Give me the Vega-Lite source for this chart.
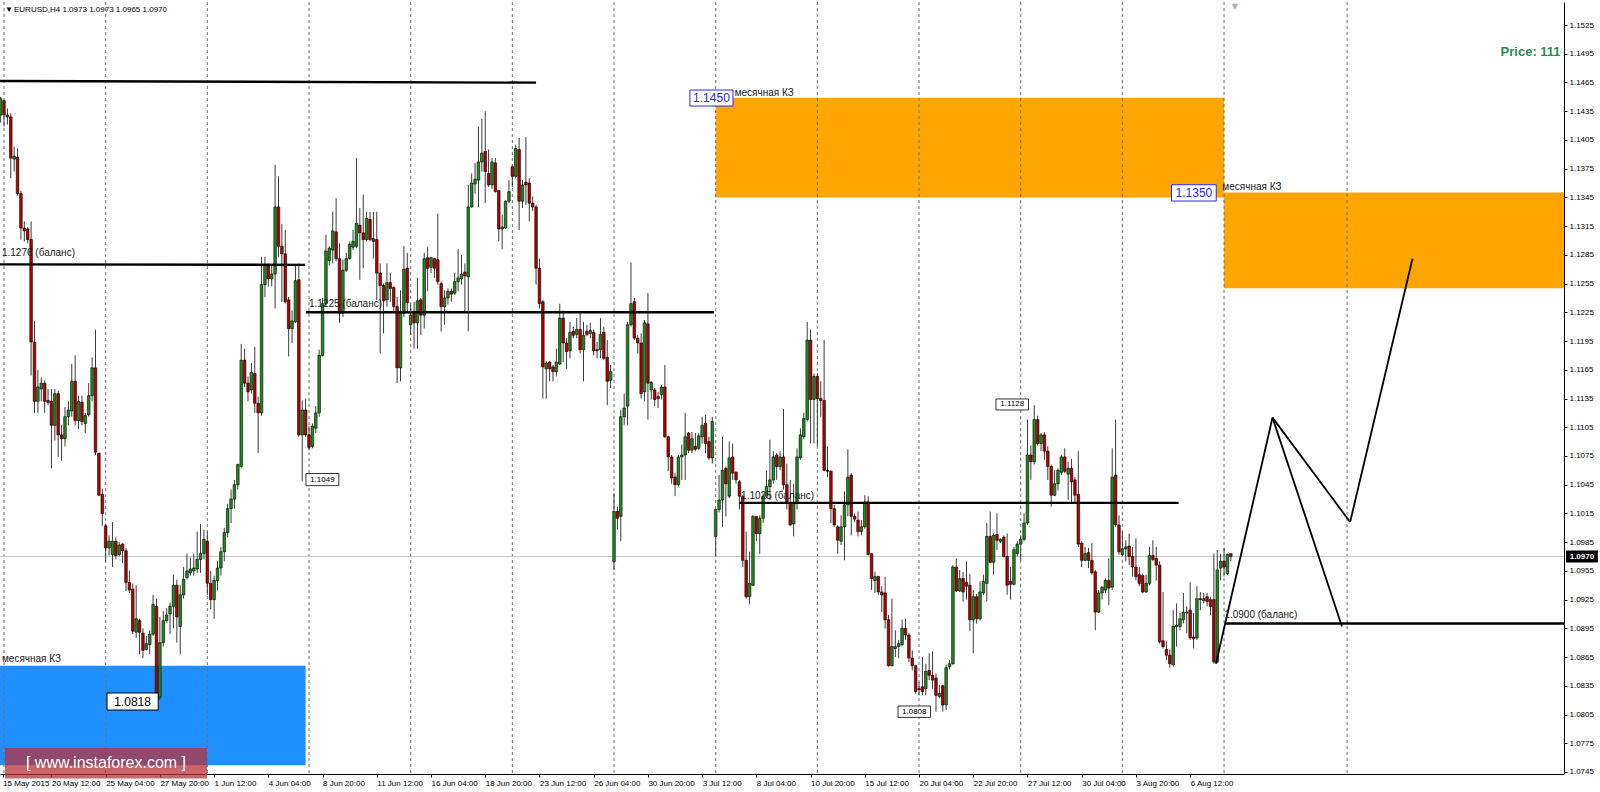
{
 "$schema": "https://vega.github.io/schema/vega-lite/v6.json",
 "width": 1564, "height": 772,
 "autosize": {"type": "none"},
 "padding": {"left": 0, "top": 2, "right": 36, "bottom": 18},
 "background": "#FFFFFF",
 "config": {"view": {"stroke": null}, "font": "Liberation Sans"},
 "resolve": {"axis": {"x": "independent", "y": "independent"}},
 "datasets": {
  "candles": [
{"i":0,"o":1.1431,"h":1.1450,"l":1.1423,"c":1.1448},
{"i":1,"o":1.1446,"h":1.1447,"l":1.1419,"c":1.1431},
{"i":2,"o":1.1431,"h":1.1438,"l":1.1421,"c":1.1429},
{"i":3,"o":1.1429,"h":1.1433,"l":1.1365,"c":1.1386},
{"i":4,"o":1.1385,"h":1.1398,"l":1.1372,"c":1.1388},
{"i":5,"o":1.1387,"h":1.1396,"l":1.1347,"c":1.1349},
{"i":6,"o":1.1349,"h":1.1352,"l":1.1301,"c":1.1313},
{"i":7,"o":1.1313,"h":1.1320,"l":1.1299,"c":1.1310},
{"i":8,"o":1.1312,"h":1.1314,"l":1.1297,"c":1.1301},
{"i":9,"o":1.1301,"h":1.1320,"l":1.1159,"c":1.1194},
{"i":10,"o":1.1194,"h":1.1216,"l":1.1120,"c":1.1132},
{"i":11,"o":1.1132,"h":1.1165,"l":1.1120,"c":1.1147},
{"i":12,"o":1.1145,"h":1.1157,"l":1.1132,"c":1.1151},
{"i":13,"o":1.1151,"h":1.1154,"l":1.1120,"c":1.1132},
{"i":14,"o":1.1133,"h":1.1145,"l":1.1128,"c":1.1131},
{"i":15,"o":1.1132,"h":1.1145,"l":1.1062,"c":1.1107},
{"i":16,"o":1.1107,"h":1.1145,"l":1.1091,"c":1.1140},
{"i":17,"o":1.1140,"h":1.1143,"l":1.1074,"c":1.1097},
{"i":18,"o":1.1097,"h":1.1107,"l":1.1070,"c":1.1093},
{"i":19,"o":1.1093,"h":1.1126,"l":1.1085,"c":1.1116},
{"i":20,"o":1.1116,"h":1.1132,"l":1.1107,"c":1.1123},
{"i":21,"o":1.1122,"h":1.1171,"l":1.1116,"c":1.1153},
{"i":22,"o":1.1153,"h":1.1180,"l":1.1107,"c":1.1112},
{"i":23,"o":1.1112,"h":1.1138,"l":1.1103,"c":1.1132},
{"i":24,"o":1.1131,"h":1.1138,"l":1.1107,"c":1.1111},
{"i":25,"o":1.1109,"h":1.1120,"l":1.1099,"c":1.1117},
{"i":26,"o":1.1118,"h":1.1151,"l":1.1116,"c":1.1138},
{"i":27,"o":1.1138,"h":1.1178,"l":1.1132,"c":1.1167},
{"i":28,"o":1.1167,"h":1.1207,"l":1.1076,"c":1.1079},
{"i":29,"o":1.1078,"h":1.1078,"l":1.1033,"c":1.1034},
{"i":30,"o":1.1035,"h":1.1041,"l":1.1002,"c":1.1015},
{"i":31,"o":1.1002,"h":1.1004,"l":1.0965,"c":1.0979},
{"i":32,"o":1.0979,"h":1.0992,"l":1.0971,"c":1.0986},
{"i":33,"o":1.0972,"h":1.1006,"l":1.0959,"c":1.0986},
{"i":34,"o":1.0986,"h":1.0990,"l":1.0967,"c":1.0971},
{"i":35,"o":1.0972,"h":1.0985,"l":1.0970,"c":1.0982},
{"i":36,"o":1.0983,"h":1.0984,"l":1.0963,"c":1.0976},
{"i":37,"o":1.0976,"h":1.0979,"l":1.0934,"c":1.0943},
{"i":38,"o":1.0943,"h":1.0955,"l":1.0932,"c":1.0935},
{"i":39,"o":1.0936,"h":1.0942,"l":1.0889,"c":1.0892},
{"i":40,"o":1.0891,"h":1.0940,"l":1.0885,"c":1.0905},
{"i":41,"o":1.0903,"h":1.0905,"l":1.0868,"c":1.0891},
{"i":42,"o":1.0890,"h":1.0895,"l":1.0864,"c":1.0872},
{"i":43,"o":1.0873,"h":1.0887,"l":1.0872,"c":1.0879},
{"i":44,"o":1.0878,"h":1.0893,"l":1.0868,"c":1.0889},
{"i":45,"o":1.0889,"h":1.0930,"l":1.0887,"c":1.0920},
{"i":46,"o":1.0918,"h":1.0926,"l":1.0818,"c":1.0821},
{"i":47,"o":1.0823,"h":1.0907,"l":1.0820,"c":1.0880},
{"i":48,"o":1.0880,"h":1.0913,"l":1.0876,"c":1.0903},
{"i":49,"o":1.0903,"h":1.0916,"l":1.0901,"c":1.0909},
{"i":50,"o":1.0910,"h":1.0922,"l":1.0889,"c":1.0918},
{"i":51,"o":1.0918,"h":1.0951,"l":1.0895,"c":1.0940},
{"i":52,"o":1.0940,"h":1.0946,"l":1.0880,"c":1.0907},
{"i":53,"o":1.0897,"h":1.0940,"l":1.0868,"c":1.0930},
{"i":54,"o":1.0930,"h":1.0959,"l":1.0926,"c":1.0946},
{"i":55,"o":1.0948,"h":1.0973,"l":1.0946,"c":1.0955},
{"i":56,"o":1.0953,"h":1.0969,"l":1.0950,"c":1.0957},
{"i":57,"o":1.0955,"h":1.0973,"l":1.0950,"c":1.0958},
{"i":58,"o":1.0957,"h":1.0996,"l":1.0953,"c":1.0967},
{"i":59,"o":1.0967,"h":1.1004,"l":1.0953,"c":1.0973},
{"i":60,"o":1.0973,"h":1.0998,"l":1.0967,"c":1.0988},
{"i":61,"o":1.0986,"h":1.0996,"l":1.0930,"c":1.0942},
{"i":62,"o":1.0942,"h":1.0955,"l":1.0915,"c":1.0925},
{"i":63,"o":1.0925,"h":1.0950,"l":1.0905,"c":1.0945},
{"i":64,"o":1.0945,"h":1.0965,"l":1.0935,"c":1.0958},
{"i":65,"o":1.0958,"h":1.0980,"l":1.0950,"c":1.0975},
{"i":66,"o":1.0975,"h":1.1000,"l":1.0965,"c":1.0995},
{"i":67,"o":1.0995,"h":1.1025,"l":1.0990,"c":1.1020},
{"i":68,"o":1.1020,"h":1.1040,"l":1.1005,"c":1.1030},
{"i":69,"o":1.1030,"h":1.1050,"l":1.1020,"c":1.1045},
{"i":70,"o":1.1045,"h":1.1067,"l":1.1040,"c":1.1066},
{"i":71,"o":1.1064,"h":1.1192,"l":1.1062,"c":1.1175},
{"i":72,"o":1.1175,"h":1.1187,"l":1.1147,"c":1.1151},
{"i":73,"o":1.1151,"h":1.1158,"l":1.1132,"c":1.1142},
{"i":74,"o":1.1144,"h":1.1172,"l":1.1140,"c":1.1162},
{"i":75,"o":1.1161,"h":1.1189,"l":1.1120,"c":1.1130},
{"i":76,"o":1.1130,"h":1.1137,"l":1.1078,"c":1.1120},
{"i":77,"o":1.1120,"h":1.1283,"l":1.1117,"c":1.1254},
{"i":78,"o":1.1254,"h":1.1283,"l":1.1241,"c":1.1274},
{"i":79,"o":1.1274,"h":1.1276,"l":1.1252,"c":1.1260},
{"i":80,"o":1.1260,"h":1.1274,"l":1.1252,"c":1.1265},
{"i":81,"o":1.1265,"h":1.1379,"l":1.1229,"c":1.1335},
{"i":82,"o":1.1335,"h":1.1367,"l":1.1283,"c":1.1294},
{"i":83,"o":1.1294,"h":1.1317,"l":1.1236,"c":1.1286},
{"i":84,"o":1.1286,"h":1.1311,"l":1.1234,"c":1.1236},
{"i":85,"o":1.1238,"h":1.1241,"l":1.1179,"c":1.1208},
{"i":86,"o":1.1208,"h":1.1227,"l":1.1193,"c":1.1216},
{"i":87,"o":1.1215,"h":1.1274,"l":1.1214,"c":1.1258},
{"i":88,"o":1.1259,"h":1.1276,"l":1.1095,"c":1.1097},
{"i":89,"o":1.1097,"h":1.1133,"l":1.1049,"c":1.1123},
{"i":90,"o":1.1123,"h":1.1135,"l":1.1095,"c":1.1097},
{"i":91,"o":1.1097,"h":1.1106,"l":1.1081,"c":1.1084},
{"i":92,"o":1.1085,"h":1.1109,"l":1.1083,"c":1.1106},
{"i":93,"o":1.1104,"h":1.1127,"l":1.1099,"c":1.1120},
{"i":94,"o":1.1120,"h":1.1186,"l":1.1116,"c":1.1180},
{"i":95,"o":1.1180,"h":1.1240,"l":1.1179,"c":1.1234},
{"i":96,"o":1.1234,"h":1.1306,"l":1.1231,"c":1.1289},
{"i":97,"o":1.1279,"h":1.1294,"l":1.1274,"c":1.1292},
{"i":98,"o":1.1290,"h":1.1330,"l":1.1276,"c":1.1310},
{"i":99,"o":1.1309,"h":1.1344,"l":1.1278,"c":1.1281},
{"i":100,"o":1.1281,"h":1.1297,"l":1.1214,"c":1.1224},
{"i":101,"o":1.1224,"h":1.1280,"l":1.1220,"c":1.1269},
{"i":102,"o":1.1269,"h":1.1287,"l":1.1267,"c":1.1281},
{"i":103,"o":1.1281,"h":1.1299,"l":1.1280,"c":1.1296},
{"i":104,"o":1.1293,"h":1.1311,"l":1.1290,"c":1.1299},
{"i":105,"o":1.1294,"h":1.1386,"l":1.1292,"c":1.1318},
{"i":106,"o":1.1316,"h":1.1334,"l":1.1259,"c":1.1308},
{"i":107,"o":1.1308,"h":1.1348,"l":1.1271,"c":1.1301},
{"i":108,"o":1.1301,"h":1.1330,"l":1.1299,"c":1.1323},
{"i":109,"o":1.1322,"h":1.1330,"l":1.1299,"c":1.1301},
{"i":110,"o":1.1302,"h":1.1330,"l":1.1281,"c":1.1299},
{"i":111,"o":1.1301,"h":1.1330,"l":1.1238,"c":1.1266},
{"i":112,"o":1.1266,"h":1.1276,"l":1.1182,"c":1.1253},
{"i":113,"o":1.1253,"h":1.1255,"l":1.1203,"c":1.1237},
{"i":114,"o":1.1238,"h":1.1276,"l":1.1231,"c":1.1256},
{"i":115,"o":1.1256,"h":1.1266,"l":1.1236,"c":1.1250},
{"i":116,"o":1.1251,"h":1.1252,"l":1.1224,"c":1.1231},
{"i":117,"o":1.1231,"h":1.1241,"l":1.1151,"c":1.1167},
{"i":118,"o":1.1167,"h":1.1248,"l":1.1153,"c":1.1225},
{"i":119,"o":1.1224,"h":1.1294,"l":1.1220,"c":1.1270},
{"i":120,"o":1.1271,"h":1.1287,"l":1.1225,"c":1.1235},
{"i":121,"o":1.1212,"h":1.1233,"l":1.1201,"c":1.1222},
{"i":122,"o":1.1224,"h":1.1236,"l":1.1187,"c":1.1214},
{"i":123,"o":1.1214,"h":1.1261,"l":1.1187,"c":1.1237},
{"i":124,"o":1.1238,"h":1.1240,"l":1.1201,"c":1.1222},
{"i":125,"o":1.1222,"h":1.1287,"l":1.1208,"c":1.1281},
{"i":126,"o":1.1282,"h":1.1293,"l":1.1247,"c":1.1271},
{"i":127,"o":1.1272,"h":1.1283,"l":1.1266,"c":1.1282},
{"i":128,"o":1.1281,"h":1.1282,"l":1.1261,"c":1.1271},
{"i":129,"o":1.1280,"h":1.1328,"l":1.1254,"c":1.1257},
{"i":130,"o":1.1255,"h":1.1257,"l":1.1205,"c":1.1231},
{"i":131,"o":1.1231,"h":1.1248,"l":1.1212,"c":1.1240},
{"i":132,"o":1.1240,"h":1.1250,"l":1.1233,"c":1.1247},
{"i":133,"o":1.1247,"h":1.1250,"l":1.1236,"c":1.1244},
{"i":134,"o":1.1245,"h":1.1266,"l":1.1243,"c":1.1257},
{"i":135,"o":1.1257,"h":1.1291,"l":1.1247,"c":1.1261},
{"i":136,"o":1.1260,"h":1.1285,"l":1.1254,"c":1.1265},
{"i":137,"o":1.1267,"h":1.1276,"l":1.1226,"c":1.1263},
{"i":138,"o":1.1262,"h":1.1358,"l":1.1205,"c":1.1335},
{"i":139,"o":1.1335,"h":1.1370,"l":1.1334,"c":1.1360},
{"i":140,"o":1.1359,"h":1.1381,"l":1.1349,"c":1.1364},
{"i":141,"o":1.1363,"h":1.1419,"l":1.1335,"c":1.1382},
{"i":142,"o":1.1382,"h":1.1427,"l":1.1372,"c":1.1391},
{"i":143,"o":1.1393,"h":1.1435,"l":1.1339,"c":1.1372},
{"i":144,"o":1.1370,"h":1.1395,"l":1.1356,"c":1.1358},
{"i":145,"o":1.1358,"h":1.1386,"l":1.1354,"c":1.1382},
{"i":146,"o":1.1381,"h":1.1386,"l":1.1350,"c":1.1351},
{"i":147,"o":1.1352,"h":1.1353,"l":1.1299,"c":1.1312},
{"i":148,"o":1.1312,"h":1.1327,"l":1.1291,"c":1.1314},
{"i":149,"o":1.1313,"h":1.1342,"l":1.1312,"c":1.1341},
{"i":150,"o":1.1341,"h":1.1363,"l":1.1339,"c":1.1351},
{"i":151,"o":1.1377,"h":1.1379,"l":1.1356,"c":1.1367},
{"i":152,"o":1.1367,"h":1.1400,"l":1.1365,"c":1.1396},
{"i":153,"o":1.1395,"h":1.1407,"l":1.1311,"c":1.1341},
{"i":154,"o":1.1341,"h":1.1363,"l":1.1334,"c":1.1358},
{"i":155,"o":1.1361,"h":1.1408,"l":1.1337,"c":1.1358},
{"i":156,"o":1.1360,"h":1.1365,"l":1.1320,"c":1.1339},
{"i":157,"o":1.1339,"h":1.1346,"l":1.1331,"c":1.1335},
{"i":158,"o":1.1335,"h":1.1337,"l":1.1254,"c":1.1271},
{"i":159,"o":1.1271,"h":1.1281,"l":1.1229,"c":1.1234},
{"i":160,"o":1.1236,"h":1.1238,"l":1.1135,"c":1.1168},
{"i":161,"o":1.1166,"h":1.1174,"l":1.1135,"c":1.1172},
{"i":162,"o":1.1173,"h":1.1174,"l":1.1153,"c":1.1166},
{"i":163,"o":1.1168,"h":1.1170,"l":1.1153,"c":1.1163},
{"i":164,"o":1.1163,"h":1.1187,"l":1.1158,"c":1.1173},
{"i":165,"o":1.1171,"h":1.1234,"l":1.1170,"c":1.1219},
{"i":166,"o":1.1219,"h":1.1227,"l":1.1173,"c":1.1193},
{"i":167,"o":1.1193,"h":1.1198,"l":1.1166,"c":1.1184},
{"i":168,"o":1.1185,"h":1.1215,"l":1.1177,"c":1.1204},
{"i":169,"o":1.1205,"h":1.1210,"l":1.1198,"c":1.1201},
{"i":170,"o":1.1202,"h":1.1219,"l":1.1198,"c":1.1207},
{"i":171,"o":1.1207,"h":1.1226,"l":1.1182,"c":1.1186},
{"i":172,"o":1.1186,"h":1.1215,"l":1.1153,"c":1.1201},
{"i":173,"o":1.1205,"h":1.1212,"l":1.1200,"c":1.1202},
{"i":174,"o":1.1203,"h":1.1214,"l":1.1198,"c":1.1206},
{"i":175,"o":1.1204,"h":1.1207,"l":1.1180,"c":1.1185},
{"i":176,"o":1.1186,"h":1.1194,"l":1.1177,"c":1.1185},
{"i":177,"o":1.1186,"h":1.1219,"l":1.1177,"c":1.1202},
{"i":178,"o":1.1204,"h":1.1210,"l":1.1175,"c":1.1177},
{"i":179,"o":1.1178,"h":1.1196,"l":1.1128,"c":1.1153},
{"i":180,"o":1.1154,"h":1.1170,"l":1.1146,"c":1.1163},
{"i":181,"o":1.0965,"h":1.1036,"l":1.0956,"c":1.1017},
{"i":182,"o":1.1017,"h":1.1022,"l":1.0998,"c":1.1010},
{"i":183,"o":1.1012,"h":1.1123,"l":1.0986,"c":1.1116},
{"i":184,"o":1.1116,"h":1.1140,"l":1.1107,"c":1.1125},
{"i":185,"o":1.1127,"h":1.1215,"l":1.1107,"c":1.1212},
{"i":186,"o":1.1212,"h":1.1277,"l":1.1210,"c":1.1234},
{"i":187,"o":1.1236,"h":1.1240,"l":1.1196,"c":1.1198},
{"i":188,"o":1.1198,"h":1.1201,"l":1.1182,"c":1.1193},
{"i":189,"o":1.1193,"h":1.1203,"l":1.1135,"c":1.1140},
{"i":190,"o":1.1142,"h":1.1217,"l":1.1132,"c":1.1214},
{"i":191,"o":1.1213,"h":1.1245,"l":1.1113,"c":1.1151},
{"i":192,"o":1.1144,"h":1.1153,"l":1.1134,"c":1.1152},
{"i":193,"o":1.1144,"h":1.1146,"l":1.1127,"c":1.1134},
{"i":194,"o":1.1137,"h":1.1142,"l":1.1125,"c":1.1135},
{"i":195,"o":1.1139,"h":1.1149,"l":1.1134,"c":1.1147},
{"i":196,"o":1.1147,"h":1.1170,"l":1.1094,"c":1.1095},
{"i":197,"o":1.1095,"h":1.1096,"l":1.1059,"c":1.1074},
{"i":198,"o":1.1074,"h":1.1076,"l":1.1046,"c":1.1052},
{"i":199,"o":1.1053,"h":1.1057,"l":1.1033,"c":1.1045},
{"i":200,"o":1.1045,"h":1.1076,"l":1.1043,"c":1.1074},
{"i":201,"o":1.1074,"h":1.1087,"l":1.1050,"c":1.1076},
{"i":202,"o":1.1076,"h":1.1120,"l":1.1050,"c":1.1095},
{"i":203,"o":1.1099,"h":1.1100,"l":1.1078,"c":1.1081},
{"i":204,"o":1.1081,"h":1.1100,"l":1.1078,"c":1.1093},
{"i":205,"o":1.1085,"h":1.1099,"l":1.1080,"c":1.1082},
{"i":206,"o":1.1083,"h":1.1099,"l":1.1081,"c":1.1096},
{"i":207,"o":1.1095,"h":1.1116,"l":1.1088,"c":1.1107},
{"i":208,"o":1.1109,"h":1.1118,"l":1.1078,"c":1.1088},
{"i":209,"o":1.1090,"h":1.1095,"l":1.1071,"c":1.1073},
{"i":210,"o":1.1073,"h":1.1116,"l":1.1067,"c":1.1111},
{"i":211,"o":1.0991,"h":1.1019,"l":1.0970,"c":1.1019},
{"i":212,"o":1.1019,"h":1.1055,"l":1.1016,"c":1.1029},
{"i":213,"o":1.1029,"h":1.1095,"l":1.1001,"c":1.1060},
{"i":214,"o":1.1062,"h":1.1064,"l":1.1012,"c":1.1046},
{"i":215,"o":1.1033,"h":1.1090,"l":1.1031,"c":1.1073},
{"i":216,"o":1.1074,"h":1.1088,"l":1.1050,"c":1.1057},
{"i":217,"o":1.1058,"h":1.1059,"l":1.1046,"c":1.1050},
{"i":218,"o":1.1048,"h":1.1050,"l":1.1019,"c":1.1033},
{"i":219,"o":1.1033,"h":1.1034,"l":1.0959,"c":1.0966},
{"i":220,"o":1.0966,"h":1.0996,"l":1.0926,"c":1.0928},
{"i":221,"o":1.0928,"h":1.0975,"l":1.0920,"c":1.0942},
{"i":222,"o":1.0940,"h":1.1013,"l":1.0939,"c":1.1012},
{"i":223,"o":1.1012,"h":1.1012,"l":1.0986,"c":1.0994},
{"i":224,"o":1.0994,"h":1.1013,"l":1.0973,"c":1.1010},
{"i":225,"o":1.1010,"h":1.1036,"l":1.1005,"c":1.1033},
{"i":226,"o":1.1033,"h":1.1060,"l":1.1031,"c":1.1043},
{"i":227,"o":1.1043,"h":1.1092,"l":1.1029,"c":1.1050},
{"i":228,"o":1.1050,"h":1.1080,"l":1.1046,"c":1.1074},
{"i":229,"o":1.1076,"h":1.1078,"l":1.1050,"c":1.1064},
{"i":230,"o":1.1064,"h":1.1080,"l":1.1060,"c":1.1074},
{"i":231,"o":1.1074,"h":1.1124,"l":1.1040,"c":1.1045},
{"i":232,"o":1.1045,"h":1.1067,"l":1.1019,"c":1.1026},
{"i":233,"o":1.1026,"h":1.1050,"l":1.1002,"c":1.1003},
{"i":234,"o":1.1004,"h":1.1046,"l":1.0991,"c":1.1026},
{"i":235,"o":1.1026,"h":1.1083,"l":1.1019,"c":1.1074},
{"i":236,"o":1.1073,"h":1.1104,"l":1.1071,"c":1.1097},
{"i":237,"o":1.1095,"h":1.1120,"l":1.1093,"c":1.1114},
{"i":238,"o":1.1113,"h":1.1215,"l":1.1111,"c":1.1196},
{"i":239,"o":1.1196,"h":1.1207,"l":1.1088,"c":1.1134},
{"i":240,"o":1.1134,"h":1.1161,"l":1.1088,"c":1.1158},
{"i":241,"o":1.1158,"h":1.1161,"l":1.1085,"c":1.1135},
{"i":242,"o":1.1135,"h":1.1153,"l":1.1116,"c":1.1133},
{"i":243,"o":1.1133,"h":1.1196,"l":1.1059,"c":1.1060},
{"i":244,"o":1.1060,"h":1.1085,"l":1.1053,"c":1.1059},
{"i":245,"o":1.1059,"h":1.1060,"l":1.1005,"c":1.1020},
{"i":246,"o":1.1020,"h":1.1024,"l":1.1001,"c":1.1003},
{"i":247,"o":1.1001,"h":1.1003,"l":1.0973,"c":1.0987},
{"i":248,"o":1.0986,"h":1.1013,"l":1.0982,"c":1.1001},
{"i":249,"o":1.1001,"h":1.1038,"l":1.0966,"c":1.1024},
{"i":250,"o":1.1024,"h":1.1082,"l":1.1012,"c":1.1053},
{"i":251,"o":1.1055,"h":1.1057,"l":1.0992,"c":1.1012},
{"i":252,"o":1.1012,"h":1.1015,"l":1.1006,"c":1.1009},
{"i":253,"o":1.1008,"h":1.1017,"l":1.0991,"c":1.0996},
{"i":254,"o":1.0996,"h":1.1008,"l":1.0992,"c":1.1001},
{"i":255,"o":1.1001,"h":1.1034,"l":1.0999,"c":1.1027},
{"i":256,"o":1.1027,"h":1.1033,"l":1.0971,"c":1.0972},
{"i":257,"o":1.0973,"h":1.0973,"l":1.0935,"c":1.0947},
{"i":258,"o":1.0945,"h":1.0954,"l":1.0932,"c":1.0949},
{"i":259,"o":1.0949,"h":1.0950,"l":1.0930,"c":1.0933},
{"i":260,"o":1.0933,"h":1.0939,"l":1.0912,"c":1.0930},
{"i":261,"o":1.0932,"h":1.0949,"l":1.0895,"c":1.0904},
{"i":262,"o":1.0904,"h":1.0909,"l":1.0855,"c":1.0856},
{"i":263,"o":1.0856,"h":1.0926,"l":1.0855,"c":1.0876},
{"i":264,"o":1.0874,"h":1.0893,"l":1.0865,"c":1.0876},
{"i":265,"o":1.0876,"h":1.0883,"l":1.0864,"c":1.0879},
{"i":266,"o":1.0878,"h":1.0904,"l":1.0876,"c":1.0895},
{"i":267,"o":1.0895,"h":1.0905,"l":1.0883,"c":1.0888},
{"i":268,"o":1.0888,"h":1.0890,"l":1.0860,"c":1.0864},
{"i":269,"o":1.0864,"h":1.0872,"l":1.0851,"c":1.0856},
{"i":270,"o":1.0856,"h":1.0857,"l":1.0827,"c":1.0829},
{"i":271,"o":1.0832,"h":1.0839,"l":1.0825,"c":1.0831},
{"i":272,"o":1.0834,"h":1.0865,"l":1.0825,"c":1.0829},
{"i":273,"o":1.0832,"h":1.0858,"l":1.0825,"c":1.0850},
{"i":274,"o":1.0851,"h":1.0869,"l":1.0841,"c":1.0846},
{"i":275,"o":1.0846,"h":1.0871,"l":1.0832,"c":1.0841},
{"i":276,"o":1.0843,"h":1.0848,"l":1.0808,"c":1.0825},
{"i":277,"o":1.0824,"h":1.0836,"l":1.0822,"c":1.0827},
{"i":278,"o":1.0835,"h":1.0836,"l":1.0808,"c":1.0815},
{"i":279,"o":1.0815,"h":1.0857,"l":1.0810,"c":1.0854},
{"i":280,"o":1.0855,"h":1.0862,"l":1.0852,"c":1.0858},
{"i":281,"o":1.0858,"h":1.0961,"l":1.0857,"c":1.0959},
{"i":282,"o":1.0959,"h":1.0968,"l":1.0933,"c":1.0934},
{"i":283,"o":1.0934,"h":1.0956,"l":1.0933,"c":1.0947},
{"i":284,"o":1.0947,"h":1.0954,"l":1.0923,"c":1.0933},
{"i":285,"o":1.0943,"h":1.0965,"l":1.0925,"c":1.0939},
{"i":286,"o":1.0940,"h":1.0952,"l":1.0892,"c":1.0904},
{"i":287,"o":1.0904,"h":1.0935,"l":1.0869,"c":1.0928},
{"i":288,"o":1.0928,"h":1.0931,"l":1.0900,"c":1.0905},
{"i":289,"o":1.0905,"h":1.0944,"l":1.0903,"c":1.0933},
{"i":290,"o":1.0932,"h":1.0951,"l":1.0930,"c":1.0944},
{"i":291,"o":1.0942,"h":1.1005,"l":1.0923,"c":1.0991},
{"i":292,"o":1.0991,"h":1.1017,"l":1.0963,"c":1.0964},
{"i":293,"o":1.0964,"h":1.0994,"l":1.0951,"c":1.0992},
{"i":294,"o":1.0993,"h":1.1015,"l":1.0977,"c":1.0987},
{"i":295,"o":1.0986,"h":1.0989,"l":1.0984,"c":1.0988},
{"i":296,"o":1.0990,"h":1.0992,"l":1.0969,"c":1.0970},
{"i":297,"o":1.0970,"h":1.0994,"l":1.0930,"c":1.0940},
{"i":298,"o":1.0944,"h":1.0959,"l":1.0925,"c":1.0941},
{"i":299,"o":1.0941,"h":1.0980,"l":1.0940,"c":1.0977},
{"i":300,"o":1.0973,"h":1.0986,"l":1.0970,"c":1.0983},
{"i":301,"o":1.0983,"h":1.0992,"l":1.0966,"c":1.0988},
{"i":302,"o":1.0988,"h":1.1015,"l":1.0986,"c":1.1005},
{"i":303,"o":1.1005,"h":1.1113,"l":1.1003,"c":1.1076},
{"i":304,"o":1.1076,"h":1.1086,"l":1.1050,"c":1.1069},
{"i":305,"o":1.1069,"h":1.1128,"l":1.1066,"c":1.1113},
{"i":306,"o":1.1113,"h":1.1117,"l":1.1086,"c":1.1088},
{"i":307,"o":1.1088,"h":1.1099,"l":1.1080,"c":1.1097},
{"i":308,"o":1.1097,"h":1.1100,"l":1.1071,"c":1.1080},
{"i":309,"o":1.1080,"h":1.1085,"l":1.1050,"c":1.1064},
{"i":310,"o":1.1064,"h":1.1066,"l":1.1022,"c":1.1034},
{"i":311,"o":1.1034,"h":1.1060,"l":1.1033,"c":1.1046},
{"i":312,"o":1.1046,"h":1.1062,"l":1.1039,"c":1.1060},
{"i":313,"o":1.1058,"h":1.1076,"l":1.1055,"c":1.1074},
{"i":314,"o":1.1074,"h":1.1083,"l":1.1057,"c":1.1059},
{"i":315,"o":1.1056,"h":1.1069,"l":1.1029,"c":1.1062},
{"i":316,"o":1.1062,"h":1.1072,"l":1.1027,"c":1.1048},
{"i":317,"o":1.1050,"h":1.1053,"l":1.1026,"c":1.1034},
{"i":318,"o":1.1035,"h":1.1080,"l":1.0980,"c":1.0983},
{"i":319,"o":1.0984,"h":1.0986,"l":1.0959,"c":1.0966},
{"i":320,"o":1.0966,"h":1.0980,"l":1.0965,"c":1.0973},
{"i":321,"o":1.0974,"h":1.0979,"l":1.0958,"c":1.0966},
{"i":322,"o":1.0966,"h":1.0984,"l":1.0951,"c":1.0953},
{"i":323,"o":1.0954,"h":1.0956,"l":1.0893,"c":1.0912},
{"i":324,"o":1.0912,"h":1.0935,"l":1.0911,"c":1.0932},
{"i":325,"o":1.0932,"h":1.0939,"l":1.0925,"c":1.0938},
{"i":326,"o":1.0935,"h":1.0947,"l":1.0932,"c":1.0945},
{"i":327,"o":1.0945,"h":1.0968,"l":1.0919,"c":1.0937},
{"i":328,"o":1.0938,"h":1.1083,"l":1.0935,"c":1.1053},
{"i":329,"o":1.1055,"h":1.1113,"l":1.1001,"c":1.1003},
{"i":330,"o":1.1003,"h":1.1013,"l":1.0972,"c":1.0975},
{"i":331,"o":1.0972,"h":1.0996,"l":1.0970,"c":1.0978},
{"i":332,"o":1.0978,"h":1.0987,"l":1.0965,"c":1.0980},
{"i":333,"o":1.0981,"h":1.0994,"l":1.0961,"c":1.0970},
{"i":334,"o":1.0970,"h":1.0980,"l":1.0949,"c":1.0959},
{"i":335,"o":1.0959,"h":1.0989,"l":1.0945,"c":1.0949},
{"i":336,"o":1.0951,"h":1.0959,"l":1.0939,"c":1.0942},
{"i":337,"o":1.0950,"h":1.0952,"l":1.0932,"c":1.0933},
{"i":338,"o":1.0933,"h":1.0951,"l":1.0932,"c":1.0942},
{"i":339,"o":1.0942,"h":1.0980,"l":1.0940,"c":1.0971},
{"i":340,"o":1.0971,"h":1.0987,"l":1.0965,"c":1.0967},
{"i":341,"o":1.0968,"h":1.0980,"l":1.0945,"c":1.0961},
{"i":342,"o":1.0961,"h":1.0965,"l":1.0879,"c":1.0881},
{"i":343,"o":1.0882,"h":1.0933,"l":1.0874,"c":1.0876},
{"i":344,"o":1.0873,"h":1.0881,"l":1.0862,"c":1.0867},
{"i":345,"o":1.0867,"h":1.0873,"l":1.0854,"c":1.0858},
{"i":346,"o":1.0857,"h":1.0914,"l":1.0855,"c":1.0897},
{"i":347,"o":1.0897,"h":1.0921,"l":1.0876,"c":1.0898},
{"i":348,"o":1.0897,"h":1.0911,"l":1.0893,"c":1.0905},
{"i":349,"o":1.0904,"h":1.0932,"l":1.0900,"c":1.0912},
{"i":350,"o":1.0912,"h":1.0918,"l":1.0890,"c":1.0911},
{"i":351,"o":1.0914,"h":1.0943,"l":1.0883,"c":1.0885},
{"i":352,"o":1.0886,"h":1.0911,"l":1.0874,"c":1.0884},
{"i":353,"o":1.0885,"h":1.0939,"l":1.0883,"c":1.0926},
{"i":354,"o":1.0926,"h":1.0933,"l":1.0914,"c":1.0925},
{"i":355,"o":1.0924,"h":1.0932,"l":1.0921,"c":1.0926},
{"i":356,"o":1.0928,"h":1.0932,"l":1.0918,"c":1.0923},
{"i":357,"o":1.0925,"h":1.0928,"l":1.0909,"c":1.0918},
{"i":358,"o":1.0925,"h":1.0973,"l":1.0858,"c":1.0860},
{"i":359,"o":1.0860,"h":1.0977,"l":1.0859,"c":1.0956},
{"i":360,"o":1.0958,"h":1.0973,"l":1.0945,"c":1.0965},
{"i":361,"o":1.0965,"h":1.0979,"l":1.0949,"c":1.0959},
{"i":362,"o":1.0952,"h":1.0973,"l":1.0951,"c":1.0972},
{"i":363,"o":1.0973,"h":1.0973,"l":1.0965,"c":1.0970}
  ],
  "boxes": [
   {"kind":"orange","x1":211.0,"x2":361.0,"y1":1.1345,"y2":1.1449},
   {"kind":"orange","x1":361.0,"x2":462.0,"y1":1.1250,"y2":1.1350},
   {"kind":"blue","x1":-0.5,"x2":90.0,"y1":1.0752,"y2":1.0856}
  ],
  "grid": [{"g":1},{"g":31},{"g":61},{"g":91},{"g":121},{"g":151},{"g":181},{"g":211},{"g":241},{"g":271},{"g":301},{"g":331},{"g":361},{"g":397.3}],
  "levels": [
   {"x1":-0.5,"x2":158,"y1":1.14665,"y2":1.14648},
   {"x1":-0.5,"x2":89.8,"y1":1.12751,"y2":1.12745},
   {"x1":90.1,"x2":210.5,"y1":1.1225,"y2":1.1225},
   {"x1":217.9,"x2":347.6,"y1":1.1026,"y2":1.1026},
   {"x1":361.3,"x2":461.31,"y1":1.0900,"y2":1.0900}
  ],
  "forecast": [
   {"x1":358.6,"x2":375.3,"y1":1.0858,"y2":1.1115},
   {"x1":375.3,"x2":398.2,"y1":1.1115,"y2":1.1006},
   {"x1":398.2,"x2":416.6,"y1":1.1006,"y2":1.1281},
   {"x1":375.3,"x2":395.8,"y1":1.1115,"y2":1.0897}
  ],
  "tags": [
   {"kind":"blue","t":"1.1450","x1":203.4,"x2":216.1,"y1":1.14404,"y2":1.14571},
   {"kind":"blue","t":"1.1350","x1":345.5,"x2":358.7,"y1":1.13412,"y2":1.13582},
   {"kind":"black","t":"1.0818","x1":31.4,"x2":46.5,"y1":1.08097,"y2":1.08275}
  ],
  "smalltags": [
   {"t":"1.1049","x1":90.1,"x2":99.8,"y1":1.10440,"y2":1.10567},
   {"t":"1.1128","x1":293.7,"x2":303.3,"y1":1.11230,"y2":1.11345},
   {"t":"1.0808","x1":264.8,"x2":274.4,"y1":1.08020,"y2":1.08139}
  ],
  "labels": [
   {"t":"1.1276 (баланс)","x":0.4,"y":1.12838},
   {"t":"1.1225 (баланс)","x":91.0,"y":1.12306},
   {"t":"1.1025 (баланс)","x":218.5,"y":1.10301},
   {"t":"1.0900 (баланс)","x":361.1,"y":1.09054},
   {"t":"месячная КЗ","x":0.4,"y":1.08599},
   {"t":"месячная КЗ","x":216.6,"y":1.14509},
   {"t":"месячная КЗ","x":360.5,"y":1.13527}
  ]
 },
 "layer": [
  {
   "data": {"name": "boxes"},
   "mark": {"type": "rect", "clip": true},
   "encoding": {
    "x": {"field": "x1", "type": "quantitative", "scale": {"domain": [-0.177, 461.31], "nice": false, "zero": false, "padding": 0}, "axis": null},
    "x2": {"field": "x2"},
    "y": {"field": "y1", "type": "quantitative", "scale": {"domain": [1.074291, 1.154902], "nice": false, "zero": false, "padding": 0}, "axis": null},
    "y2": {"field": "y2"},
    "fill": {"field": "kind", "type": "nominal", "scale": {"domain": ["orange", "blue"], "range": ["#FFA500", "#1E90FF"]}, "legend": null}
   }
  },
  {
   "data": {"name": "grid"},
   "mark": {"type": "rule", "color": "#707070", "strokeDash": [3, 3], "strokeWidth": 1},
   "encoding": {
    "x": {"field": "g", "type": "quantitative", "scale": {"domain": [-0.177, 461.31], "nice": false, "zero": false, "padding": 0}, "axis": null}
   }
  },
  {
   "data": {"values": [{"p": 1.097}]},
   "mark": {"type": "rule", "color": "#C8C8C8", "strokeWidth": 1},
   "encoding": {
    "y": {"field": "p", "type": "quantitative", "scale": {"domain": [1.074291, 1.154902], "nice": false, "zero": false, "padding": 0}, "axis": null}
   }
  },
  {
   "data": {"name": "candles"},
   "mark": {"type": "rule", "color": "#3A3A3A", "strokeWidth": 1},
   "encoding": {
    "x": {"field": "i", "type": "quantitative", "scale": {"domain": [-0.177, 461.31], "nice": false, "zero": false, "padding": 0},
     "axis": {"title": null, "orient": "bottom", "grid": false, "domainColor": "#000000", "tickColor": "#000000", "tickSize": 3,
      "values": [0.6, 15, 31, 47, 63, 79, 95, 111, 127, 143, 159, 175, 191, 207, 223, 239, 255, 271, 287, 303, 319, 335, 351],
      "labelExpr": "datum.value < 5 ? '15 May 2015' : ['20 May 12:00','25 May 04:00','27 May 20:00','1 Jun 12:00','4 Jun 04:00','8 Jun 20:00','11 Jun 12:00','16 Jun 04:00','18 Jun 20:00','23 Jun 12:00','26 Jun 04:00','30 Jun 20:00','3 Jul 12:00','8 Jul 04:00','10 Jul 20:00','15 Jul 12:00','20 Jul 04:00','22 Jul 20:00','27 Jul 12:00','30 Jul 04:00','3 Aug 20:00','6 Aug 12:00'][round((datum.value - 15) / 16)]",
      "labelAlign": "left", "labelBaseline": "top", "labelPadding": 2, "labelFontSize": 8, "labelFont": "Liberation Sans", "labelColor": "#000000",
      "labelOverlap": false, "labelFlush": false, "labelBound": false}},
    "y": {"field": "l", "type": "quantitative", "scale": {"domain": [1.074291, 1.154902], "nice": false, "zero": false, "padding": 0},
     "axis": {"title": null, "orient": "right", "grid": false, "domainColor": "#000000", "tickColor": "#000000", "tickSize": 3,
      "values": [1.0745, 1.0775, 1.0805, 1.0835, 1.0865, 1.0895, 1.0925, 1.0955, 1.0985, 1.1015, 1.1045, 1.1075, 1.1105, 1.1135, 1.1165, 1.1195, 1.1225, 1.1255, 1.1285, 1.1315, 1.1345, 1.1375, 1.1405, 1.1435, 1.1465, 1.1495, 1.1525],
      "format": ".4f", "labelPadding": 2, "labelFontSize": 8, "labelFont": "Liberation Sans", "labelColor": "#000000",
      "labelOverlap": false, "labelBound": false, "labelFlush": false}},
    "y2": {"field": "h"}
   }
  },
  {
   "data": {"name": "candles"},
   "mark": {"type": "bar", "width": 2.6, "stroke": "#000000", "strokeWidth": 0.6},
   "encoding": {
    "x": {"field": "i", "type": "quantitative", "scale": {"domain": [-0.177, 461.31], "nice": false, "zero": false, "padding": 0}, "axis": null},
    "y": {"field": "o", "type": "quantitative", "scale": {"domain": [1.074291, 1.154902], "nice": false, "zero": false, "padding": 0}, "axis": null},
    "y2": {"field": "c"},
    "fill": {"condition": {"test": "datum.c >= datum.o", "value": "#1F8B1F"}, "value": "#B40000"}
   }
  },
  {
   "data": {"name": "levels"},
   "mark": {"type": "rule", "color": "#000000", "strokeWidth": 2.4},
   "encoding": {
    "x": {"field": "x1", "type": "quantitative", "scale": {"domain": [-0.177, 461.31], "nice": false, "zero": false, "padding": 0}, "axis": null},
    "x2": {"field": "x2"},
    "y": {"field": "y1", "type": "quantitative", "scale": {"domain": [1.074291, 1.154902], "nice": false, "zero": false, "padding": 0}, "axis": null},
    "y2": {"field": "y2"}
   }
  },
  {
   "data": {"name": "forecast"},
   "mark": {"type": "rule", "color": "#000000", "strokeWidth": 1.8},
   "encoding": {
    "x": {"field": "x1", "type": "quantitative", "scale": {"domain": [-0.177, 461.31], "nice": false, "zero": false, "padding": 0}, "axis": null},
    "x2": {"field": "x2"},
    "y": {"field": "y1", "type": "quantitative", "scale": {"domain": [1.074291, 1.154902], "nice": false, "zero": false, "padding": 0}, "axis": null},
    "y2": {"field": "y2"}
   }
  },
  {
   "data": {"name": "labels"},
   "mark": {"type": "text", "align": "left", "baseline": "alphabetic", "font": "Liberation Sans", "fontSize": 10, "color": "#202020"},
   "encoding": {
    "x": {"field": "x", "type": "quantitative", "scale": {"domain": [-0.177, 461.31], "nice": false, "zero": false, "padding": 0}, "axis": null},
    "y": {"field": "y", "type": "quantitative", "scale": {"domain": [1.074291, 1.154902], "nice": false, "zero": false, "padding": 0}, "axis": null},
    "text": {"field": "t"}
   }
  },
  {
   "data": {"name": "tags"},
   "mark": {"type": "rect", "fill": "#FFFFFF", "strokeWidth": 1},
   "encoding": {
    "x": {"field": "x1", "type": "quantitative", "scale": {"domain": [-0.177, 461.31], "nice": false, "zero": false, "padding": 0}, "axis": null},
    "x2": {"field": "x2"},
    "y": {"field": "y1", "type": "quantitative", "scale": {"domain": [1.074291, 1.154902], "nice": false, "zero": false, "padding": 0}, "axis": null},
    "y2": {"field": "y2"},
    "stroke": {"field": "kind", "type": "nominal", "scale": {"domain": ["blue", "black"], "range": ["#2828FF", "#000000"]}, "legend": null}
   }
  },
  {
   "data": {"name": "tags"},
   "transform": [{"calculate": "(datum.x1 + datum.x2) / 2", "as": "xm"}, {"calculate": "(datum.y1 + datum.y2) / 2", "as": "ym"}],
   "mark": {"type": "text", "align": "center", "baseline": "middle", "font": "Liberation Sans", "fontSize": 12},
   "encoding": {
    "x": {"field": "xm", "type": "quantitative", "scale": {"domain": [-0.177, 461.31], "nice": false, "zero": false, "padding": 0}, "axis": null},
    "y": {"field": "ym", "type": "quantitative", "scale": {"domain": [1.074291, 1.154902], "nice": false, "zero": false, "padding": 0}, "axis": null},
    "text": {"field": "t"},
    "color": {"field": "kind", "type": "nominal", "scale": {"domain": ["blue", "black"], "range": ["#2828FF", "#000000"]}, "legend": null}
   }
  },
  {
   "data": {"name": "smalltags"},
   "mark": {"type": "rect", "fill": "#FFFFFF", "stroke": "#000000", "strokeWidth": 0.8},
   "encoding": {
    "x": {"field": "x1", "type": "quantitative", "scale": {"domain": [-0.177, 461.31], "nice": false, "zero": false, "padding": 0}, "axis": null},
    "x2": {"field": "x2"},
    "y": {"field": "y1", "type": "quantitative", "scale": {"domain": [1.074291, 1.154902], "nice": false, "zero": false, "padding": 0}, "axis": null},
    "y2": {"field": "y2"}
   }
  },
  {
   "data": {"name": "smalltags"},
   "transform": [{"calculate": "(datum.x1 + datum.x2) / 2", "as": "xm"}, {"calculate": "(datum.y1 + datum.y2) / 2", "as": "ym"}],
   "mark": {"type": "text", "align": "center", "baseline": "middle", "font": "Liberation Sans", "fontSize": 8, "color": "#000000"},
   "encoding": {
    "x": {"field": "xm", "type": "quantitative", "scale": {"domain": [-0.177, 461.31], "nice": false, "zero": false, "padding": 0}, "axis": null},
    "y": {"field": "ym", "type": "quantitative", "scale": {"domain": [1.074291, 1.154902], "nice": false, "zero": false, "padding": 0}, "axis": null},
    "text": {"field": "t"}
   }
  },
  {
   "data": {"values": [{"x1": 1.3, "x2": 60.9, "y1": 1.07382, "y2": 1.07701}]},
   "mark": {"type": "rect", "fill": "#B8303C", "opacity": 0.75},
   "encoding": {
    "x": {"field": "x1", "type": "quantitative", "scale": {"domain": [-0.177, 461.31], "nice": false, "zero": false, "padding": 0}, "axis": null},
    "x2": {"field": "x2"},
    "y": {"field": "y1", "type": "quantitative", "scale": {"domain": [1.074291, 1.154902], "nice": false, "zero": false, "padding": 0}, "axis": null},
    "y2": {"field": "y2"}
   }
  },
  {
   "data": {"values": [{"t": "[   www.instaforex.com   ]", "x": 31.1, "y": 1.07544}]},
   "mark": {"type": "text", "align": "center", "baseline": "middle", "font": "Liberation Sans", "fontSize": 16, "color": "#FFFFFF"},
   "encoding": {
    "x": {"field": "x", "type": "quantitative", "scale": {"domain": [-0.177, 461.31], "nice": false, "zero": false, "padding": 0}, "axis": null},
    "y": {"field": "y", "type": "quantitative", "scale": {"domain": [1.074291, 1.154902], "nice": false, "zero": false, "padding": 0}, "axis": null},
    "text": {"field": "t"}
   }
  },
  {
   "data": {"values": [{"t": "▼", "x": 1.3, "y": 1.15386}, {"t": "EURUSD,H4  1.0973 1.0973 1.0965 1.0970", "x": 3.95, "y": 1.15386}]},
   "mark": {"type": "text", "align": "left", "baseline": "alphabetic", "font": "Liberation Sans", "fontSize": 8, "color": "#000000"},
   "encoding": {
    "x": {"field": "x", "type": "quantitative", "scale": {"domain": [-0.177, 461.31], "nice": false, "zero": false, "padding": 0}, "axis": null},
    "y": {"field": "y", "type": "quantitative", "scale": {"domain": [1.074291, 1.154902], "nice": false, "zero": false, "padding": 0}, "axis": null},
    "text": {"field": "t"}
   }
  },
  {
   "data": {"values": [{"t": "▼", "x": 364.2, "y": 1.15417}]},
   "mark": {"type": "text", "align": "center", "baseline": "alphabetic", "font": "DejaVu Sans", "fontSize": 8, "color": "#B0B0B0"},
   "encoding": {
    "x": {"field": "x", "type": "quantitative", "scale": {"domain": [-0.177, 461.31], "nice": false, "zero": false, "padding": 0}, "axis": null},
    "y": {"field": "y", "type": "quantitative", "scale": {"domain": [1.074291, 1.154902], "nice": false, "zero": false, "padding": 0}, "axis": null},
    "text": {"field": "t"}
   }
  },
  {
   "data": {"values": [{"t": "Price: 111", "x": 460.3, "y": 1.14926}]},
   "mark": {"type": "text", "align": "right", "baseline": "alphabetic", "font": "Liberation Sans", "fontSize": 13, "fontWeight": "bold", "color": "#2E8B57"},
   "encoding": {
    "x": {"field": "x", "type": "quantitative", "scale": {"domain": [-0.177, 461.31], "nice": false, "zero": false, "padding": 0}, "axis": null},
    "y": {"field": "y", "type": "quantitative", "scale": {"domain": [1.074291, 1.154902], "nice": false, "zero": false, "padding": 0}, "axis": null},
    "text": {"field": "t"}
   }
  },
  {
   "data": {"values": [{"x1": 461.9, "x2": 471.3, "y1": 1.09638, "y2": 1.09763}]},
   "mark": {"type": "rect", "fill": "#000000", "clip": false},
   "encoding": {
    "x": {"field": "x1", "type": "quantitative", "scale": {"domain": [-0.177, 461.31], "nice": false, "zero": false, "padding": 0}, "axis": null},
    "x2": {"field": "x2"},
    "y": {"field": "y1", "type": "quantitative", "scale": {"domain": [1.074291, 1.154902], "nice": false, "zero": false, "padding": 0}, "axis": null},
    "y2": {"field": "y2"}
   }
  },
  {
   "data": {"values": [{"t": "1.0970", "x": 466.6, "y": 1.0970}]},
   "mark": {"type": "text", "align": "center", "baseline": "middle", "font": "Liberation Sans", "fontSize": 8, "fontWeight": "bold", "color": "#FFFFFF"},
   "encoding": {
    "x": {"field": "x", "type": "quantitative", "scale": {"domain": [-0.177, 461.31], "nice": false, "zero": false, "padding": 0}, "axis": null},
    "y": {"field": "y", "type": "quantitative", "scale": {"domain": [1.074291, 1.154902], "nice": false, "zero": false, "padding": 0}, "axis": null},
    "text": {"field": "t"}
   }
  }
 ]
}
